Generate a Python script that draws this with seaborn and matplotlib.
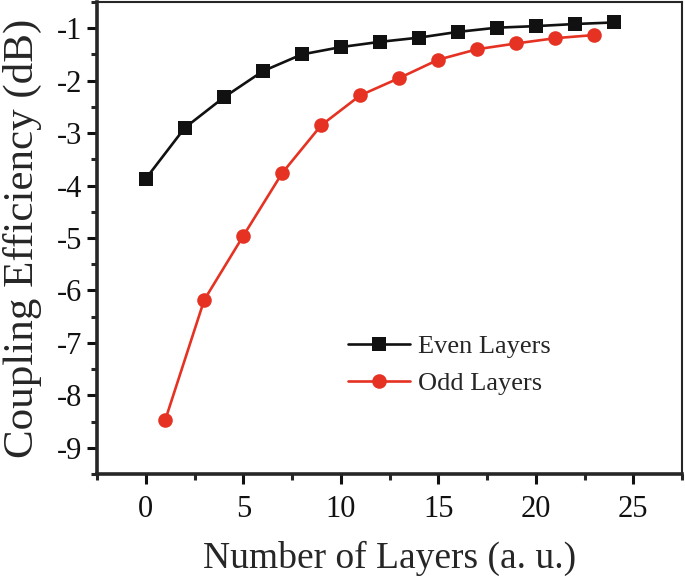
import numpy as np
import pandas as pd
import seaborn as sns
import matplotlib.pyplot as plt
from matplotlib.ticker import MultipleLocator

# values
even_layers = [0, 2, 4, 6, 8, 10, 12, 14, 16, 18, 20, 22, 24]
even_eff = [-3.87, -2.90, -2.32, -1.82, -1.50, -1.36, -1.26, -1.18, -1.07, -0.99, -0.96, -0.92, -0.89]
odd_layers = [1, 3, 5, 7, 9, 11, 13, 15, 17, 19, 21, 23]
odd_eff = [-8.47, -6.18, -4.96, -3.76, -2.85, -2.28, -1.95, -1.60, -1.40, -1.29, -1.19, -1.13]

df = pd.concat([
    pd.DataFrame({"Layers": even_layers, "Eff": even_eff, "Series": "Even Layers"}),
    pd.DataFrame({"Layers": odd_layers, "Eff": odd_eff, "Series": "Odd Layers"}),
])

sns.set_style("ticks")
plt.rcParams['font.family'] = ['Liberation Serif', 'DejaVu Serif']
plt.rcParams['axes.unicode_minus'] = False

fig = plt.figure(figsize=(6.85, 5.81), dpi=100)
ax = fig.add_axes([97/685, 1 - 474/581, (682 - 97)/685, (474 - 2)/581])

sns.lineplot(data=df, x="Layers", y="Eff", hue="Series", style="Series",
             palette={"Even Layers": "#111111", "Odd Layers": "#E53222"},
             markers={"Even Layers": "s", "Odd Layers": "o"}, dashes=False,
             markersize=10.5, linewidth=1.9, markeredgewidth=0, ax=ax)

ax.set_xlim(-2.5, 27.5)
ax.set_ylim(-9.5, -0.5)
ax.xaxis.set_major_locator(MultipleLocator(5))
ax.xaxis.set_minor_locator(MultipleLocator(2.5))
ax.yaxis.set_major_locator(MultipleLocator(1))
ax.yaxis.set_minor_locator(MultipleLocator(0.5))
ax.tick_params(which='major', direction='out', length=7, width=2.2, labelsize=22, colors='#111111')
ax.tick_params(which='minor', direction='out', length=4, width=2.2)
ax.tick_params(axis='x', pad=8)

for side in ['left', 'bottom']:
    ax.spines[side].set_linewidth(2.6)
for side in ['top', 'right']:
    ax.spines[side].set_linewidth(1.5)

ax.set_xlabel("Number of Layers (a. u.)", fontsize=27, labelpad=12)
ax.set_ylabel("Coupling Efficiency (dB)", fontsize=31, labelpad=11)

leg = ax.legend(loc='upper left', bbox_to_anchor=(0.388, 0.345), frameon=False,
                fontsize=19, handlelength=2.35, handletextpad=0.3, labelspacing=0.5)

fig.savefig("out.png", dpi=100)
